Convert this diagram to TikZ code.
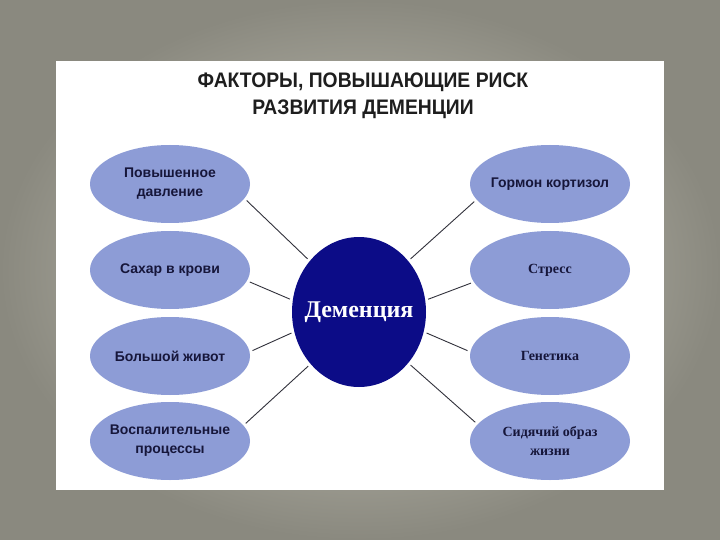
\documentclass[tikz,border=0pt]{standalone}
\usepackage{fontspec}
\setmainfont{Liberation Serif}
\newfontfamily\arialfont{Liberation Sans}
\usetikzlibrary{shapes.geometric}
\definecolor{bgin}{RGB}{206,204,192}
\definecolor{bgout}{RGB}{138,137,127}
\definecolor{sidefill}{RGB}{141,156,214}
\definecolor{navy}{RGB}{12,12,135}
\definecolor{txtdark}{RGB}{22,22,58}
\definecolor{titlec}{RGB}{30,30,30}
\definecolor{linec}{RGB}{50,50,60}
\tikzset{
  side/.style={ellipse, fill=sidefill, minimum width=160pt, minimum height=78pt, inner xsep=-30pt, inner ysep=0pt, align=center, text=txtdark},
  sans/.style={font=\arialfont\bfseries\fontsize{14}{19}\selectfont},
  serif/.style={font=\bfseries\fontsize{14}{19}\selectfont},
  conn/.style={draw=linec, line width=0.9pt, shorten <=3pt, shorten >=3pt}
}
\begin{document}
\begin{tikzpicture}[x=1pt,y=-1pt]
\useasboundingbox (0,0) rectangle (720,540);
\shade[inner color=bgin, outer color=bgout] (0,0) rectangle (720,540);
\fill[white] (56,61) rectangle (664,490);
\node[font=\arialfont\bfseries\fontsize{21}{27}\selectfont, text=titlec, align=center] (title) at (363,96)
  {\scalebox{0.92}[1]{ФАКТОРЫ, ПОВЫШАЮЩИЕ РИСК}\\\scalebox{0.92}[1]{РАЗВИТИЯ ДЕМЕНЦИИ}};
\node[ellipse, fill=navy, minimum width=134pt, minimum height=150pt, inner xsep=-30pt, inner ysep=0pt, text=white, font=\bfseries\fontsize{24}{28}\selectfont] (c) at (359,312) {Деменция};
\node[side, sans] (l1) at (170,184) {Повышенное\\давление};
\node[side, sans] (l2) at (170,270) {Сахар в крови};
\node[side, sans] (l3) at (170,356) {Большой живот};
\node[side, sans] (l4) at (170,441) {Воспалительные\\процессы};
\node[side, sans] (r1) at (550,184) {Гормон кортизол};
\node[side, serif] (r2) at (550,270) {Стресс};
\node[side, serif] (r3) at (550,356) {Генетика};
\node[side, serif] (r4) at (550,441) {Сидячий образ\\жизни};
\draw[conn] (l1.-11) -- (c.134);
\draw[conn] (l2.-8) -- (c.170);
\draw[conn] (l3.3) -- (c.197);
\draw[conn] (l4.12) -- (c.227);
\draw[conn] (r1.192) -- (c.46);
\draw[conn] (r2.189) -- (c.10);
\draw[conn] (r3.177) -- (c.-17);
\draw[conn] (r4.167) -- (c.-46);
\end{tikzpicture}
\end{document}
